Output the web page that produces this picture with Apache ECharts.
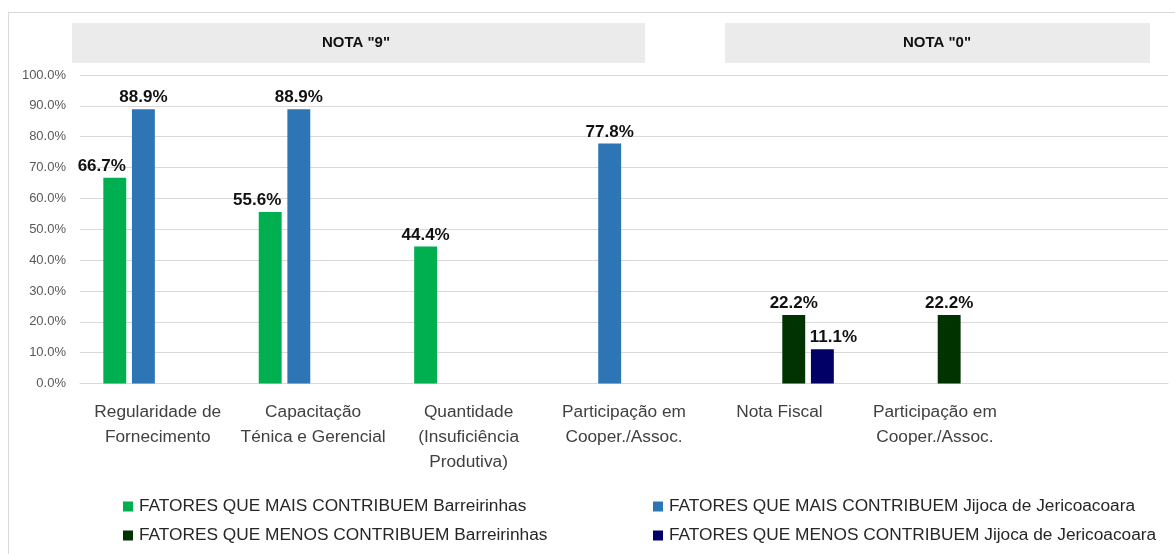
<!DOCTYPE html>
<html>
<head>
<meta charset="utf-8">
<script src="https://cdn.jsdelivr.net/npm/echarts@6/dist/echarts.min.js"></script>
<style>
  html, body { margin: 0; padding: 0; background: #fff; }
  #chart { width: 1175px; height: 554px; }
</style>
</head>
<body>
<div id="chart"></div>
<script>
// Categories along the x axis (last slot is left empty)
const categories = [
  'Regularidade de\nFornecimento',
  'Capacitação\nTénica e Gerencial',
  'Quantidade\n(Insuficiência\nProdutiva)',
  'Participação em\nCooper./Assoc.',
  'Nota Fiscal',
  'Participação em\nCooper./Assoc.',
  ''
];

const seriesNames = [
  'FATORES QUE MAIS CONTRIBUEM Barreirinhas',
  'FATORES QUE MAIS CONTRIBUEM Jijoca de Jericoacoara',
  'FATORES QUE MENOS CONTRIBUEM Barreirinhas',
  'FATORES QUE MENOS CONTRIBUEM Jijoca de Jericoacoara'
];

// Percentages per category
const maisBarreirinhas = [66.7, 55.6, 44.4, null, null, null, null];
const maisJijoca       = [88.9, 88.9, null, 77.8, null, null, null];
const menosBarreirinhas = [null, null, null, null, 22.2, 22.2, null];
const menosJijoca       = [null, null, null, null, 11.1, null, null];

const yTicks = [0, 10, 20, 30, 40, 50, 60, 70, 80, 90, 100];

const groupTitles = ['NOTA "9"', 'NOTA "0"'];

const colors = ['#00B050', '#2E75B6', '#003300', '#000066'];
const FONT = 'Liberation Sans';

// horizontal nudges for labels that would otherwise collide with a neighbouring bar
const labelShift = [
  { 0: -13, 1: -13 },
  {},
  {},
  { 4: 11 }
];

const chart = echarts.init(document.getElementById('chart'), null, { renderer: 'canvas' });

function barSeries(idx, data) {
  return {
    name: seriesNames[idx],
    type: 'bar',
    data: data.map((v, i) => {
      const dx = labelShift[idx][i];
      return dx ? { value: v, label: { offset: [dx, 0] } } : v;
    }),
    barGap: '25%',
    barCategoryGap: '30%',
    itemStyle: { color: colors[idx] },
    label: {
      show: true,
      position: 'top',
      distance: 3,
      fontFamily: FONT,
      fontWeight: 'bold',
      fontSize: 17,
      color: '#111',
      formatter: p => p.value == null ? '' : p.value.toFixed(1) + '%'
    }
  };
}

const legendBase = {
  orient: 'vertical',
  top: 493,
  itemWidth: 10,
  itemHeight: 10,
  itemGap: 12,
  icon: 'rect',
  textStyle: { fontFamily: FONT, fontSize: 17.3, color: '#262626', padding: [0, 0, 0, 1] }
};

const option = {
  backgroundColor: '#ffffff',
  animation: false,
  textStyle: { fontFamily: FONT },
  grid: { left: 80, right: 7, top: 75, bottom: 170.5, containLabel: false },
  xAxis: {
    type: 'category',
    data: categories,
    axisTick: { show: false },
    axisLine: { show: true, lineStyle: { color: '#d9d9d9', width: 1 } },
    axisLabel: {
      interval: 0,
      margin: 16,
      fontFamily: FONT,
      fontSize: 17.3,
      lineHeight: 25,
      color: '#404040',
      align: 'center'
    }
  },
  yAxis: {
    type: 'value',
    min: yTicks[0],
    max: yTicks[yTicks.length - 1],
    interval: 10,
    axisLine: { show: false },
    axisTick: { show: false },
    splitLine: { lineStyle: { color: '#d9d9d9', width: 1 } },
    axisLabel: {
      margin: 14,
      fontFamily: FONT,
      fontSize: 13,
      color: '#595959',
      formatter: v => v.toFixed(1) + '%'
    }
  },
  legend: [
    Object.assign({}, legendBase, { data: [seriesNames[0], seriesNames[2]], left: 118 }),
    Object.assign({}, legendBase, { data: [seriesNames[1], seriesNames[3]], left: 648 })
  ],
  graphic: [
    // outer frame edges
    { type: 'line', shape: { x1: 8.5, y1: 12, x2: 8.5, y2: 554 }, style: { stroke: '#d9d9d9', lineWidth: 1 } },
    { type: 'line', shape: { x1: 8, y1: 12.5, x2: 1175, y2: 12.5 }, style: { stroke: '#d9d9d9', lineWidth: 1 } },
    // group headers
    { type: 'rect', shape: { x: 72, y: 23, width: 573, height: 40 }, style: { fill: '#ebebeb' } },
    { type: 'text', x: 356, y: 43, style: { text: groupTitles[0], fontFamily: FONT, fontWeight: 'bold', fontSize: 15, fill: '#111', align: 'center', verticalAlign: 'middle' } },
    { type: 'rect', shape: { x: 725, y: 23, width: 425, height: 40 }, style: { fill: '#ebebeb' } },
    { type: 'text', x: 937, y: 43, style: { text: groupTitles[1], fontFamily: FONT, fontWeight: 'bold', fontSize: 15, fill: '#111', align: 'center', verticalAlign: 'middle' } }
  ],
  series: [
    barSeries(0, maisBarreirinhas),
    barSeries(1, maisJijoca),
    barSeries(2, menosBarreirinhas),
    barSeries(3, menosJijoca)
  ]
};

chart.setOption(option);
</script>
</body>
</html>
